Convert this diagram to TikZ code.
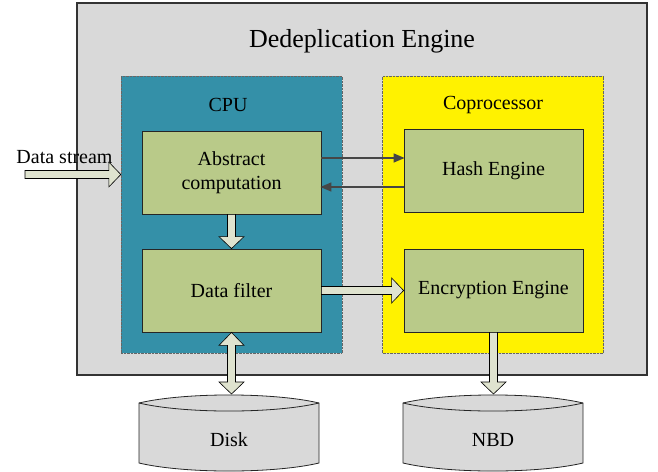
\documentclass[tikz,border=0pt]{standalone}
\usepackage{fontspec}
\setmainfont{Liberation Serif}
\usetikzlibrary{calc,arrows.meta}
\definecolor{panelgray}{RGB}{217,217,217}
\definecolor{cputeal}{RGB}{52,144,168}
\definecolor{boxgreen}{RGB}{185,202,137}
\definecolor{arrowfill}{RGB}{223,227,207}
\definecolor{linegray}{RGB}{70,70,70}
% block arrows: shaft half width 4, head half width 12.5, head length 12
\newcommand{\harrow}[2]{%
  \draw[blockarrow] ($(#1)+(0,4)$) -- ($(#2)+(-12,4)$) -- ($(#2)+(-12,12.5)$)
    -- (#2) -- ($(#2)+(-12,-12.5)$) -- ($(#2)+(-12,-4)$) -- ($(#1)+(0,-4)$) -- cycle;}
\newcommand{\varrow}[2]{%
  \draw[blockarrow] ($(#1)+(-4,0)$) -- ($(#2)+(-4,-12)$) -- ($(#2)+(-12.5,-12)$)
    -- (#2) -- ($(#2)+(12.5,-12)$) -- ($(#2)+(4,-12)$) -- ($(#1)+(4,0)$) -- cycle;}
\newcommand{\vvarrow}[2]{%
  \draw[blockarrow] (#1) -- ($(#1)+(12.5,13)$) -- ($(#1)+(4,13)$) -- ($(#2)+(4,-12)$)
    -- ($(#2)+(12.5,-12)$) -- (#2) -- ($(#2)+(-12.5,-12)$) -- ($(#2)+(-4,-12)$)
    -- ($(#1)+(-4,13)$) -- ($(#1)+(-12.5,13)$) -- cycle;}
\begin{document}
\begin{tikzpicture}[x=1pt,y=-1pt,
  every node/.style={font=\fontsize{20}{24}\selectfont},
  panel/.style={draw=black!80, line width=1.2pt, fill=panelgray, minimum width=570, minimum height=372},
  unit/.style={draw=black!60, densely dotted, minimum width=221, minimum height=277},
  engine/.style={draw=black!85, line width=0.8pt, fill=boxgreen, minimum width=179, minimum height=83, align=center},
  blockarrow/.style={draw=black, line width=0.6pt, fill=arrowfill, line join=miter},
  thinarrow/.style={draw=linegray, line width=1.4pt, -{Triangle[length=11pt,width=9pt]}, shorten >=-1pt},
  drum/.style={draw=black!85, line width=0.8pt, fill=panelgray}]
\useasboundingbox (0,0) rectangle (658,471);
\node[panel] (dedup) at (362,189) {};
\node (title) at (362,41) {\fontsize{26}{30}\selectfont Dedeplication Engine};
\node[unit, fill=cputeal] (cpu) at (231.5,214.5) {};
\node[unit, fill=yellow] (copro) at (493,214.5) {};
\node (cpulbl) at (228,105) {CPU};
\node (coprolbl) at (493,105) {Coprocessor};
\node[engine] (abst) at (231.5,172.5) {Abstract\\computation};
\node[engine] (filter) at (231.5,290.5) {Data filter};
\node[engine] (hash) at (493.5,171) {Hash Engine};
\node[engine] (encr) at (493.5,290.5) {Encryption Engine};
% storage
\coordinate (diskc) at (229,440);
\coordinate (nbdc) at (493,440);
\foreach \d in {diskc,nbdc} {
  \draw[drum] ($(\d)+(-90,-37)$) .. controls ($(\d)+(-45,-47.7)$) and ($(\d)+(45,-47.7)$) .. ($(\d)+(90,-37)$)
    -- ($(\d)+(90,23)$) .. controls ($(\d)+(45,33.7)$) and ($(\d)+(-45,33.7)$) .. ($(\d)+(-90,23)$) -- cycle;
  \draw[drum, fill=none] ($(\d)+(-90,-37)$) .. controls ($(\d)+(-45,-26.3)$) and ($(\d)+(45,-26.3)$) .. ($(\d)+(90,-37)$);
}
\node (disk) at (diskc) {Disk};
\node (nbd) at (nbdc) {NBD};
% connectors
\coordinate (dsin) at (25,174.5);
\node (dslbl) at (64.5,157) {Data stream};
\harrow{dsin}{cpu.west |- dsin}
\varrow{abst.south}{filter.north}
\harrow{filter.east}{encr.west}
\vvarrow{filter.south}{filter.south |- 0,394}
\varrow{encr.south}{encr.south |- 0,394}
\draw[thinarrow] (abst.east |- 0,158) -- (hash.west |- 0,158);
\draw[thinarrow] (hash.west |- 0,187) -- (abst.east |- 0,187);
\end{tikzpicture}
\end{document}
